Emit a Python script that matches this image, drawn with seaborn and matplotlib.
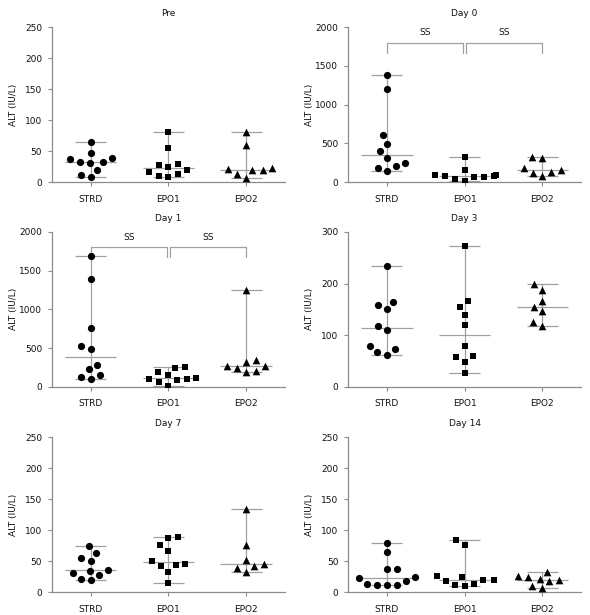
import numpy as np
import pandas as pd
import matplotlib
matplotlib.use("Agg")
import matplotlib.pyplot as plt
import seaborn as sns

groups = ["STRD", "EPO1", "EPO2"]
markers = {"STRD": "o", "EPO1": "s", "EPO2": "^"}

pre_strd = [65, 47, 37, 32, 31, 32, 38, 20, 12, 7.5]
pre_epo1 = [80, 55, 20, 28, 25, 29, 13, 7.5, 10, 16]
pre_epo2 = [80, 60, 19, 21, 22, 13, 19, 7]

d0_strd = [1385, 1196, 602, 486, 396, 310, 202, 181, 241, 138]
d0_epo1 = [323, 150, 95, 85, 80, 75, 70, 60, 40, 15]
d0_epo2 = [327, 310, 185, 129, 77, 120, 150]

d1_strd = [1686, 1393, 765, 486, 533, 284, 155, 103, 129, 224]
d1_epo1 = [254, 241, 190, 150, 120, 100, 95, 90, 60, 17]
d1_epo2 = [1247, 340, 322, 271, 249, 194, 202, 275]

d3_strd = [233, 165, 150, 159, 117, 110, 73, 62, 68, 80]
d3_epo1 = [272, 166, 155, 139, 119, 80, 57, 59, 48, 26]
d3_epo2 = [199, 188, 167, 155, 146, 126, 118]

d7_strd = [74, 64, 51, 55, 35, 28, 36, 31, 19, 22]
d7_epo1 = [89, 88, 76, 67, 51, 46, 43, 44, 33, 15]
d7_epo2 = [134, 77, 52, 42, 32, 39, 46]

d14_strd = [80, 64.5, 38, 37, 25, 22.5, 18, 12, 12, 12, 13]
d14_epo1 = [84, 76, 26, 20, 20, 25, 18, 13, 10, 11]
d14_epo2 = [33, 26, 24, 18, 19, 22, 7, 10]

panels = [
    ("Pre", [pre_strd, pre_epo1, pre_epo2], 250, 50, False),
    ("Day 0", [d0_strd, d0_epo1, d0_epo2], 2000, 500, True),
    ("Day 1", [d1_strd, d1_epo1, d1_epo2], 2000, 500, True),
    ("Day 3", [d3_strd, d3_epo1, d3_epo2], 300, 100, False),
    ("Day 7", [d7_strd, d7_epo1, d7_epo2], 250, 50, False),
    ("Day 14", [d14_strd, d14_epo1, d14_epo2], 250, 50, False),
]

sns.set_theme(style="white")
plt.rcParams["font.family"] = ["DejaVu Sans"]
fs = 6.5
gray = "#8c8c8c"
linegray = "#a0a0a0"
txt = "#111111"

fig = plt.figure(figsize=(5.9, 6.15), dpi=100)
lefts = [0.088, 0.590]
bottoms = [0.704, 0.371, 0.037]
W, H = 0.395, 0.252

swarm_colls = []
for i, (title, vals, ymax, step, sig) in enumerate(panels):
    r, c = divmod(i, 2)
    ax = fig.add_axes([lefts[c], bottoms[r], W, H])
    df = pd.DataFrame({
        "group": np.concatenate([[g] * len(v) for g, v in zip(groups, vals)]),
        "ALT": np.concatenate([np.asarray(v, float) for v in vals]),
    })
    for k, g in enumerate(groups):
        sub = df[df["group"] == g]
        v = sub["ALT"].to_numpy()
        med, lo, hi = np.median(v), v.min(), v.max()
        ax.vlines(k, lo, hi, color=linegray, lw=0.9, zorder=1)
        ax.hlines([lo, hi], k - 0.2, k + 0.2, color=linegray, lw=0.9, zorder=1)
        ax.hlines(med, k - 0.33, k + 0.33, color=linegray, lw=0.9, zorder=1)
        n0 = len(ax.collections)
        sns.swarmplot(data=sub, x="group", y="ALT", order=groups, ax=ax,
                      marker=markers[g], color="black", size=6.9,
                      linewidth=0, zorder=3, warn_thresh=1)
        for coll in ax.collections[n0:]:
            if len(coll.get_sizes()):
                swarm_colls.append((coll, markers[g]))
    ax.set_xlim(-0.5, 2.5)
    ax.set_ylim(0, ymax)
    ax.set_yticks(np.arange(0, ymax + 1, step))
    ax.set_xlabel("")
    ax.set_ylabel("ALT (IU/L)", fontsize=fs, color=txt)
    ax.yaxis.set_label_coords(-0.145, 0.5)
    ax.set_title(title, fontsize=fs, color=txt, pad=8)
    for s in ["top", "right"]:
        ax.spines[s].set_visible(False)
    for s in ["left", "bottom"]:
        ax.spines[s].set_color(gray)
        ax.spines[s].set_linewidth(0.9)
    ax.tick_params(axis="both", labelsize=fs, colors=txt,
                   length=3, width=0.8, color=gray, direction="out")
    ax.tick_params(axis="x", pad=6)
    ax.tick_params(axis="y", pad=4)
    ax.tick_params(left=True, bottom=True)
    if sig:
        yb = ymax * 0.90
        yt = ymax * 0.835
        ys = ymax * 0.935
        for a, b in [(0, 0.985), (1.015, 2)]:
            ax.plot([a, a, b, b], [yt, yb, yb, yt], color=linegray, lw=0.9,
                    clip_on=False, zorder=2)
            ax.text((a + b) / 2, ys, "SS", ha="center", va="bottom",
                    fontsize=fs, color=txt)

# let seaborn lay out the swarms with generous spacing, then freeze them
fig.canvas.draw()
final_size = {"o": 5.2, "s": 5.0, "^": 5.5}
for coll, m in swarm_colls:
    if "draw" in coll.__dict__:
        del coll.draw
    coll.set_sizes(np.full(len(coll.get_sizes()), final_size[m] ** 2))

fig.savefig("out.png", dpi=100)
